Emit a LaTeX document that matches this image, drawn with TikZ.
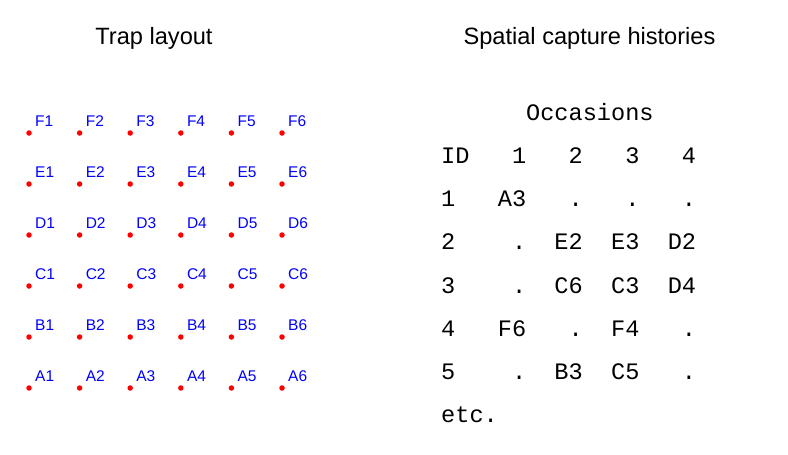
\documentclass[tikz,border=0pt]{standalone}
\usepackage{fontspec}
\setmainfont{Liberation Sans}
\newfontfamily\monofont{Liberation Mono}
\begin{document}
\begin{tikzpicture}[x=1pt,y=-1pt,
  title/.style={anchor=base,inner sep=0pt,font=\fontsize{23.6}{28}\selectfont},
  trapdot/.style={circle,fill=red,inner sep=0pt,minimum size=5.5pt},
  traplabel/.style={anchor=base west,inner sep=0pt,text=blue,font=\fontsize{15.5}{18}\selectfont},
  histline/.style={anchor=base west,inner sep=0pt,font=\monofont\fontsize{23.6}{28}\selectfont}]
\useasboundingbox[fill=white] (0,0) rectangle (788,455);

% headings
\node[title] (tl) at (154,45) {Trap layout};
\node[title] (sch) at (589.5,45) {Spatial capture histories};

% 6 x 6 grid of traps, rows F (top) to A (bottom)
\foreach \r [count=\i from 0] in {F,E,D,C,B,A}{
  \foreach \c in {1,...,6}{
    \node[trapdot] (t\r\c) at ({29+50.6*(\c-1)},{133+51*\i}) {};
    \node[traplabel] (l\r\c) at ([xshift=6pt,yshift=7pt]t\r\c.center) {\r\c};
  }
}

% capture histories, one monospaced line per row
\node[histline] (occ) at (441,120) {~~~~~~Occasions};
\node[histline] (hdr) at (441,163) {ID~~~1~~~2~~~3~~~4};
\node[histline] (h1) at (441,206) {1~~~A3~~~.~~~.~~~.};
\node[histline] (h2) at (441,249) {2~~~~.~~E2~~E3~~D2};
\node[histline] (h3) at (441,293) {3~~~~.~~C6~~C3~~D4};
\node[histline] (h4) at (441,336) {4~~~F6~~~.~~F4~~~.};
\node[histline] (h5) at (441,379) {5~~~~.~~B3~~C5~~~.};
\node[histline] (etc) at (441,422) {etc.};
\end{tikzpicture}
\end{document}
